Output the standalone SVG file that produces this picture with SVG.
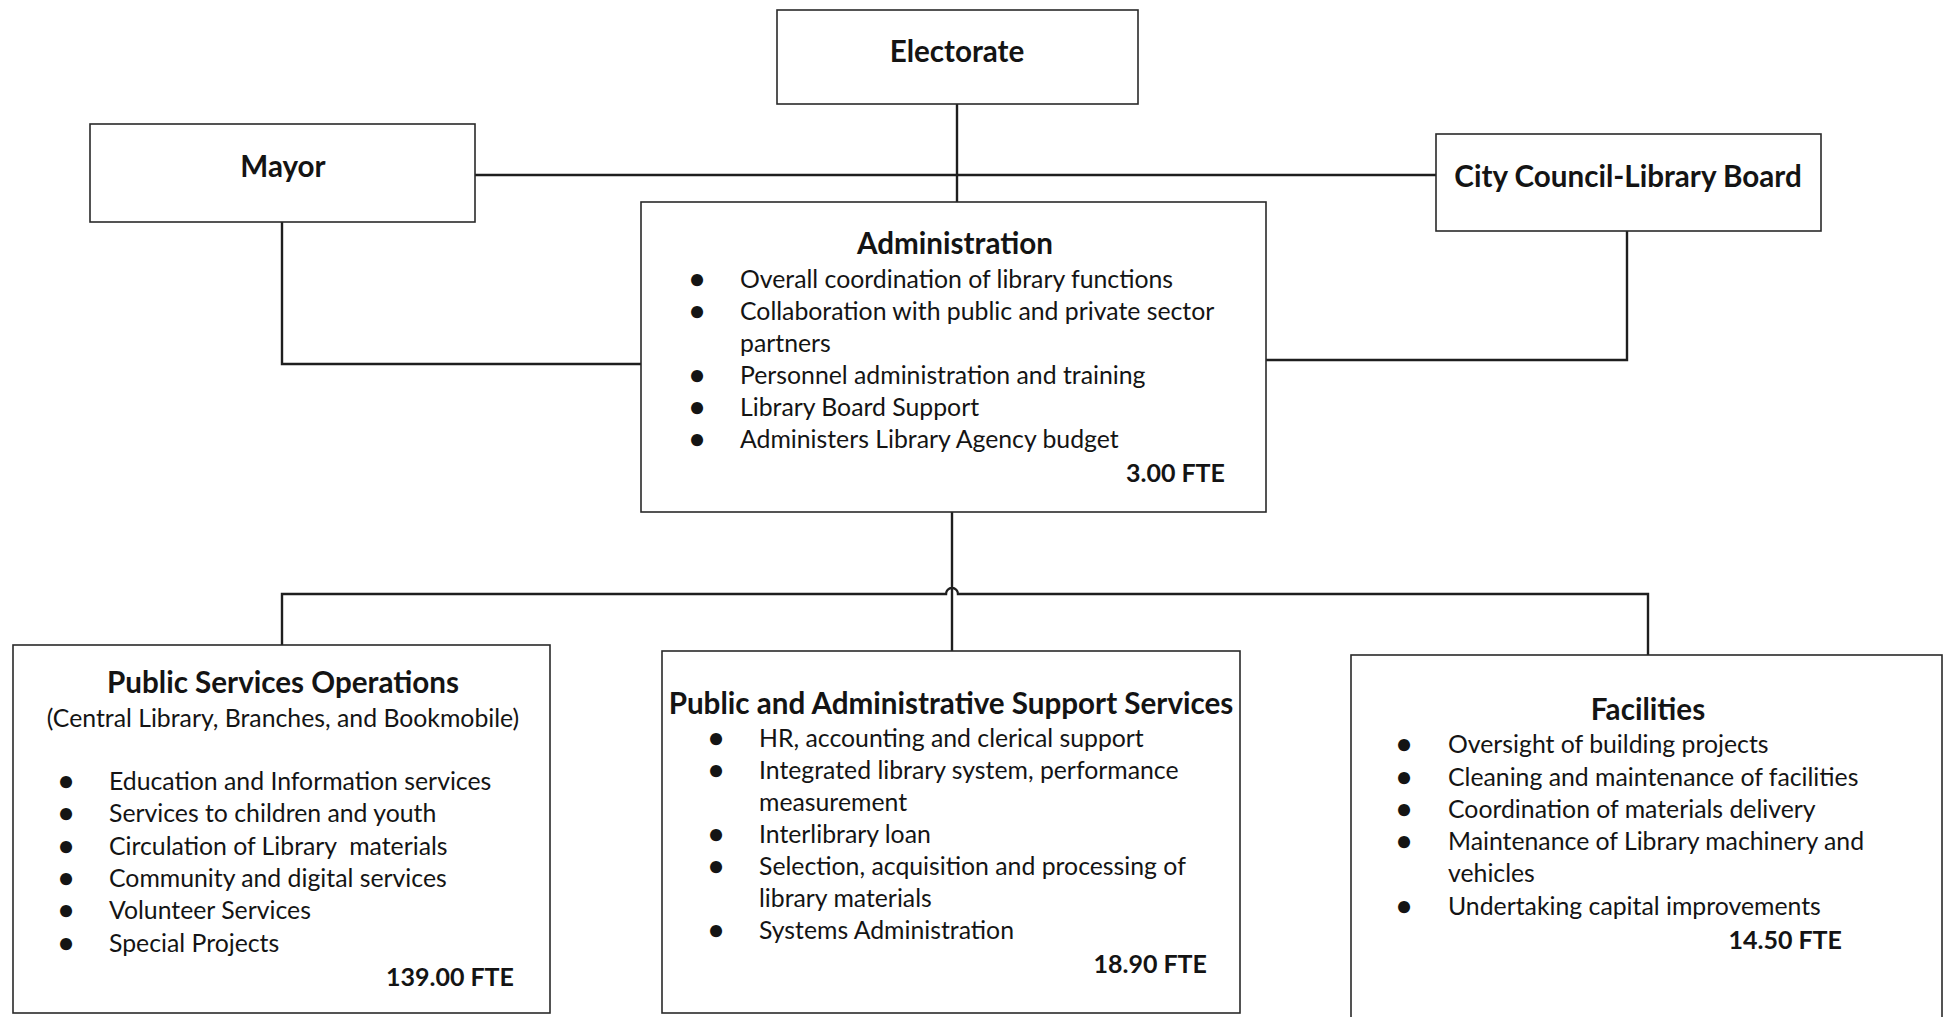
<svg xmlns="http://www.w3.org/2000/svg" width="1946" height="1017" viewBox="0 0 1946 1017">
<style>
.box{fill:#fff;stroke:#2a2a2a;stroke-width:1.6}
.con{fill:none;stroke:#1e1e1e;stroke-width:2.4}
text{font-family:Lato,"Liberation Sans",sans-serif;fill:#141414}
.t{font-weight:700;font-size:29.6px;text-anchor:middle}
.b{font-size:24.8px}
.s{font-size:24.8px;text-anchor:middle}
.d{font-size:26px;font-weight:900;text-anchor:middle}
.f{font-weight:700;font-size:25px;text-anchor:end}
</style>
<rect width="1946" height="1017" fill="#fff"/>
<g id="connectors">
<path class="con" d="M957 104V202"/>
<path class="con" d="M475 175H1436"/>
<path class="con" d="M282 222V364H641"/>
<path class="con" d="M1627 231V360H1266"/>
<path class="con" d="M952 512V651"/>
<path class="con" d="M282 645V594H946A6 6 0 0 1 958 594H1648V655"/>
</g>
<g id="electorate">
<rect class="box" x="777" y="10" width="361" height="94"/>
<text class="t" x="957" y="62">Electorate</text>
</g>
<g id="mayor">
<rect class="box" x="90" y="124" width="385" height="98"/>
<text class="t" x="283" y="177">Mayor</text>
</g>
<g id="council">
<rect class="box" x="1436" y="134" width="385" height="97"/>
<text class="t" x="1628" y="187">City Council-Library Board</text>
</g>
<g id="administration">
<rect class="box" x="641" y="202" width="625" height="310"/>
<text class="t" x="955" y="254">Administration</text>
<text class="d" x="697" y="288">•</text><text class="b" x="740" y="288">Overall coordination of library functions</text>
<text class="d" x="697" y="320">•</text><text class="b" x="740" y="320">Collaboration with public and private sector</text>
<text class="b" x="740" y="352">partners</text>
<text class="d" x="697" y="384">•</text><text class="b" x="740" y="384">Personnel administration and training</text>
<text class="d" x="697" y="416">•</text><text class="b" x="740" y="416">Library Board Support</text>
<text class="d" x="697" y="448">•</text><text class="b" x="740" y="448">Administers Library Agency budget</text>
<text class="f" x="1225" y="482">3.00 FTE</text>
</g>
<g id="public-services-operations">
<rect class="box" x="13" y="645" width="537" height="368"/>
<text class="t" x="283" y="693">Public Services Operations</text>
<text class="s" x="283" y="727">(Central Library, Branches, and Bookmobile)</text>
<text class="d" x="66" y="790">•</text><text class="b" x="109" y="790">Education and Information services</text>
<text class="d" x="66" y="822">•</text><text class="b" x="109" y="822">Services to children and youth</text>
<text class="d" x="66" y="855">•</text><text class="b" x="109" y="855" xml:space="preserve">Circulation of Library  materials</text>
<text class="d" x="66" y="887">•</text><text class="b" x="109" y="887">Community and digital services</text>
<text class="d" x="66" y="919">•</text><text class="b" x="109" y="919">Volunteer Services</text>
<text class="d" x="66" y="952">•</text><text class="b" x="109" y="952">Special Projects</text>
<text class="f" x="514" y="986">139.00 FTE</text>
</g>
<g id="support-services">
<rect class="box" x="662" y="651" width="578" height="362"/>
<text class="t" x="951" y="714">Public and Administrative Support Services</text>
<text class="d" x="716" y="747">•</text><text class="b" x="759" y="747">HR, accounting and clerical support</text>
<text class="d" x="716" y="779">•</text><text class="b" x="759" y="779">Integrated library system, performance</text>
<text class="b" x="759" y="811">measurement</text>
<text class="d" x="716" y="843">•</text><text class="b" x="759" y="843">Interlibrary loan</text>
<text class="d" x="716" y="875">•</text><text class="b" x="759" y="875">Selection, acquisition and processing of</text>
<text class="b" x="759" y="907">library materials</text>
<text class="d" x="716" y="939">•</text><text class="b" x="759" y="939">Systems Administration</text>
<text class="f" x="1207" y="973">18.90 FTE</text>
</g>
<g id="facilities">
<rect class="box" x="1351" y="655" width="591" height="372"/>
<text class="t" x="1648" y="720">Facilities</text>
<text class="d" x="1404" y="753">•</text><text class="b" x="1448" y="753">Oversight of building projects</text>
<text class="d" x="1404" y="786">•</text><text class="b" x="1448" y="786">Cleaning and maintenance of facilities</text>
<text class="d" x="1404" y="818">•</text><text class="b" x="1448" y="818">Coordination of materials delivery</text>
<text class="d" x="1404" y="850">•</text><text class="b" x="1448" y="850">Maintenance of Library machinery and</text>
<text class="b" x="1448" y="882">vehicles</text>
<text class="d" x="1404" y="915">•</text><text class="b" x="1448" y="915">Undertaking capital improvements</text>
<text class="f" x="1842" y="949">14.50 FTE</text>
</g>
</svg>
